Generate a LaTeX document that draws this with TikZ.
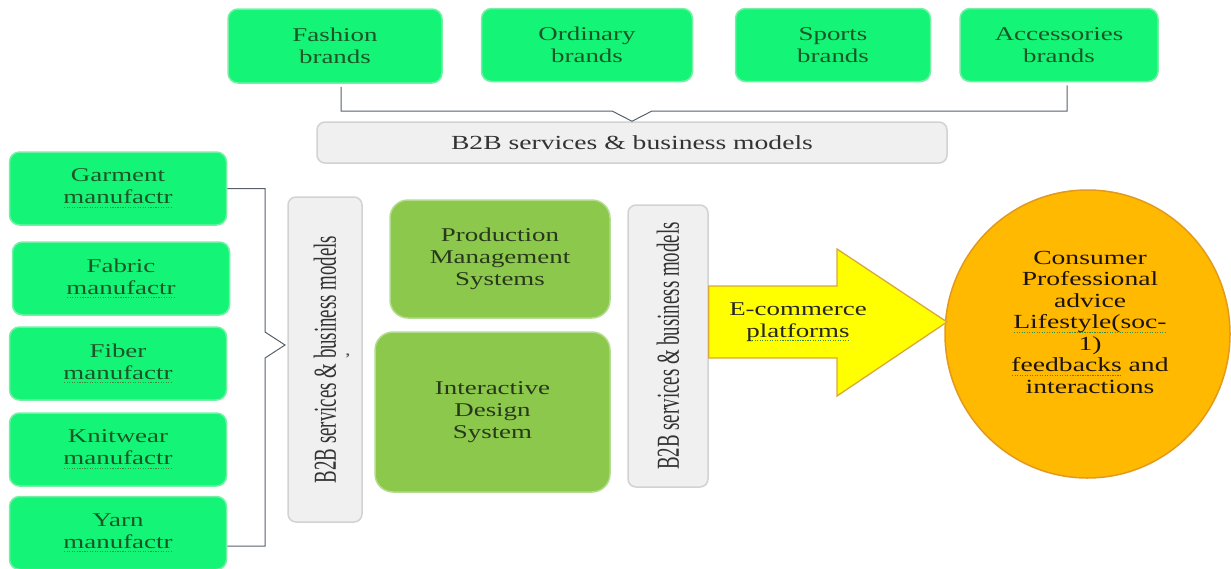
\documentclass[tikz,border=0pt]{standalone}
\usepackage{fontspec}
\setmainfont{Liberation Serif}[FakeStretch=1.38]
\newfontfamily\tallfont{Liberation Serif}[FakeStretch=0.59]
\usepackage{tikz}
\usetikzlibrary{shapes.geometric}

\definecolor{brandgreen}{HTML}{14F578}
\definecolor{brandedge}{HTML}{74F0A6}
\definecolor{brandtext}{HTML}{1E5526}
\definecolor{toolgreen}{HTML}{8CC84B}
\definecolor{tooledge}{HTML}{B4DC8E}
\definecolor{tooltext}{HTML}{28381C}
\definecolor{servfill}{HTML}{F0F0F0}
\definecolor{servedge}{HTML}{D2D2D2}
\definecolor{linegray}{HTML}{56616B}
\definecolor{arrowyellow}{HTML}{FFFF00}
\definecolor{arrowedge}{HTML}{D9A83C}
\definecolor{gold}{HTML}{FFB900}
\definecolor{goldedge}{HTML}{E29A1C}
\definecolor{squiggle}{HTML}{3C8C3C}

% spell-checker style dotted underline
\newsavebox\spellbox
\newcommand{\spell}[1]{\sbox\spellbox{#1}\leavevmode
  \rlap{\raisebox{-4pt}{\hbox to \wd\spellbox{\color{squiggle}%
    \xleaders\hbox to 2.5pt{\hss\rule{1.2pt}{1pt}\hss}\hfill}}}%
  \usebox\spellbox}

\begin{document}
\begin{tikzpicture}[x=1pt, y=-1pt,
  every node/.style = {align=center, inner sep=2pt,
    font=\fontsize{19.5}{22}\selectfont},
  panel/.style = {shape=rectangle, line width=1.5pt},
  brand/.style = {panel, rounded corners=10pt, fill=brandgreen,
    draw=brandedge, text=brandtext},
  maker/.style = {brand, minimum width=217pt, minimum height=73pt},
  tool/.style = {panel, rounded corners=18pt, fill=toolgreen,
    draw=tooledge, text=tooltext},
  serv/.style = {panel, rounded corners=8pt, fill=servfill,
    draw=servedge, text=black!80},
  upright/.style = {serv, rotate=90,
    font={\tallfont\fontsize{32}{34}\selectfont}},
  bracket/.style = {draw=linegray, line width=1pt}]
  \useasboundingbox (0,0) rectangle (1231,568);

  % brands along the top
  \node[brand, minimum width=214pt, minimum height=74pt] (fashion) at (335,46) {Fashion\\brands};
  \node[brand, minimum width=211pt, minimum height=73pt] (ordinary) at (587,45) {Ordinary\\brands};
  \node[brand, minimum width=195pt, minimum height=73pt] (sports) at (833,45) {Sports\\brands};
  \node[brand, minimum width=198pt, minimum height=73pt] (accessories) at (1059,45) {Accessories\\brands};
  \node[serv, minimum width=630pt, minimum height=41pt,
    font=\fontsize{20}{22}\selectfont] (topb2b) at (632,142.5) {B2B services \& business models};

  % manufacturers on the left
  \node[maker] (garment)  at (118,188.5) {Garment\\\spell{manufactr}};
  \node[maker] (fabric)   at (121,278.5) {Fabric\\\spell{manufactr}};
  \node[maker] (fiber)    at (118,363.5) {Fiber\\\spell{manufactr}};
  \node[maker] (knitwear) at (118,449.5) {Knitwear\\\spell{manufactr}};
  \node[maker] (yarn)     at (118,533)   {Yarn\\\spell{manufactr}};

  \node[upright, minimum width=325pt, minimum height=74pt] (leftb2b) at (325,359.5) {B2B services \& business models};
  \node[font=\fontsize{16}{16}\selectfont, text=black!70] (tick) at (348,356) {,};

  % systems in the middle
  \node[tool, minimum width=220pt, minimum height=118pt] (production) at (500,259) {Production\\Management\\Systems};
  \node[tool, minimum width=235pt, minimum height=160pt] (interactive) at (492.5,412) {Interactive\\Design\\System};
  \node[upright, minimum width=282pt, minimum height=80pt] (rightb2b) at (668,346) {B2B services \& business models};

  % consumer side
  \node[shape=ellipse, fill=gold, draw=goldedge, line width=1.5pt,
    minimum width=285pt, minimum height=288pt, inner sep=0pt] (consumer) at (1087.5,334) {};
  \node[font=\fontsize{20}{21.5}\selectfont, text=black!85!brown] (consumertext) at (1090,322)
    {Consumer\\Professional\\advice\\\spell{Lifestyle(soc-}\\1)\\\spell{feedbacks} and\\interactions};

  % big arrow
  \coordinate (tip) at (947,322);
  \filldraw[fill=arrowyellow, draw=arrowedge, line width=1.3pt, line join=miter]
    (rightb2b.south |- 0,286) -- (837,286) -- (837,249) -- (tip)
    -- (837,396) -- (837,358) -- (rightb2b.south |- 0,358) -- cycle;
  \node[text=black!85] (ecom) at (798,322) {E-commerce\\\spell{platforms}};

  % brackets
  \coordinate (topfork) at (632,111);
  \draw[bracket] ([xshift=6pt,yshift=-3pt]fashion.south) |- ([xshift=-20pt]topfork)
    -- (topb2b.north) -- ([xshift=20pt]topfork) -| ([xshift=8pt,yshift=-3pt]accessories.south);
  \coordinate (leftfork) at (265,345);
  \draw[bracket] (garment.east) -| ([yshift=13pt]leftfork) -- ([xshift=20pt]leftfork)
    -- ([yshift=-13pt]leftfork) |- ([yshift=-13pt]yarn.east);
\end{tikzpicture}
\end{document}
